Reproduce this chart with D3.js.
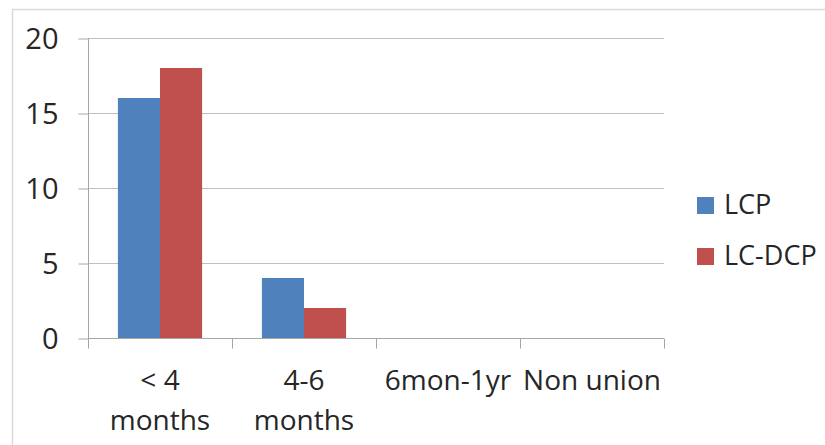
<!DOCTYPE html>
<html><head><meta charset="utf-8">
<script src="https://cdn.jsdelivr.net/npm/d3@7"></script>
<style>body{margin:0;background:#fff}svg{display:block}text{font-family:"Open Sans",sans-serif;fill:#262626}</style>
</head><body>
<svg id="c" width="825" height="445"></svg>
<script>
const categories = [["< 4","months"],["4-6","months"],["6mon-1yr"],["Non union"]];
const seriesNames = ["LCP","LC-DCP"];
const lcp = [16, 4, 0, 0];
const lcdcp = [18, 2, 0, 0];
const yTicks = [0, 5, 10, 15, 20];
const colors = ["#4F81BD", "#C0504D"];

(function(){
const FS = 28;
const svg = d3.select("#c");
svg.append("rect").attr("x",12.5).attr("y",9.5).attr("width",830).attr("height",460)
  .attr("fill","none").attr("stroke","#D9D9D9").attr("stroke-width",1.5);

const mLeft = 88, mRight = 664, mTop = 38, mBottom = 338;
const keys = categories.map((c,i)=>i);
const x = d3.scaleBand().domain(keys).range([mLeft,mRight]);
const x1 = d3.scaleBand().domain([0,1]).range([0, x.bandwidth()]).paddingOuter(0.71).paddingInner(0);
const y = d3.scaleLinear().domain([0,20]).range([mBottom, mTop]);

// gridlines
svg.append("g").selectAll("line").data(yTicks.filter(d=>d>0)).join("line")
  .attr("x1",mLeft).attr("x2",mRight).attr("y1",d=>y(d)+0.5).attr("y2",d=>y(d)+0.5)
  .attr("stroke","#BFBFBF").attr("stroke-width",1);

// y axis
const yAxis = svg.append("g").attr("transform",`translate(${mLeft+0.5},0)`)
  .call(d3.axisLeft(y).tickValues(yTicks).tickSize(10).tickPadding(20));
yAxis.select(".domain").attr("stroke","#A6A6A6").attr("d",`M0,${mTop}V${mBottom}`);
yAxis.selectAll(".tick line").attr("stroke","#A6A6A6").attr("transform","translate(0,0.5)");
yAxis.selectAll(".tick text").attr("font-size",29).attr("font-family","'Open Sans',sans-serif").attr("fill","#262626").attr("dy","0.36em");

// bars
const data = [lcp, lcdcp];
const g = svg.append("g");
keys.forEach(k=>{
  data.forEach((s,si)=>{
    if (s[k] > 0) g.append("rect")
      .attr("x", x(k)+x1(si)).attr("width", x1.bandwidth())
      .attr("y", y(s[k])).attr("height", y(0)-y(s[k]))
      .attr("fill", colors[si]);
  });
});

// x axis
const xAxis = svg.append("g").attr("transform",`translate(0,${mBottom+0.5})`);
xAxis.append("line").attr("x1",mLeft).attr("x2",mRight).attr("stroke","#A6A6A6");
const bounds = keys.map(k=>x(k)).concat([mRight]);
xAxis.selectAll("line.t").data(bounds).join("line").attr("class","t")
  .attr("x1",d=>Math.round(d)+0.5).attr("x2",d=>Math.round(d)+0.5).attr("y1",0).attr("y2",10)
  .attr("stroke","#A6A6A6");
keys.forEach(k=>{
  const t = xAxis.append("text").attr("text-anchor","middle").attr("font-size",FS)
    .attr("x", x(k)+x.bandwidth()/2).attr("y", 51);
  categories[k].forEach((line,li)=>{
    t.append("tspan").attr("x", x(k)+x.bandwidth()/2).attr("dy", li===0?0:40).text(line);
  });
});

// legend
const lg = svg.append("g");
seriesNames.forEach((n,i)=>{
  lg.append("rect").attr("x",697).attr("y",197+i*51).attr("width",17).attr("height",17).attr("fill",colors[i]);
  lg.append("text").attr("x",724).attr("y",214+i*51).attr("font-size",27).text(n);
});
})();
</script>
</body></html>
